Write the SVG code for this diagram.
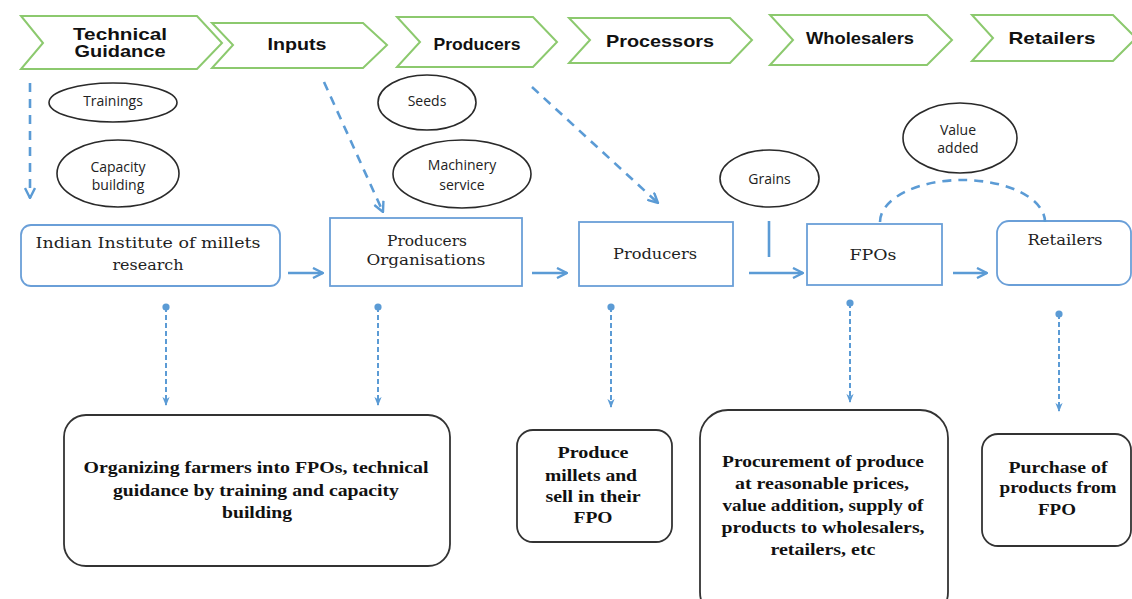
<svg xmlns="http://www.w3.org/2000/svg" width="1132" height="599" viewBox="0 0 1132 599">
<style>
.chev{fill:#fff;stroke:#8cc96e;stroke-width:2}
.ht{font-family:"Liberation Sans",Arial,sans-serif;font-weight:bold;font-size:17px;fill:#111;text-anchor:middle}
.ell{fill:#fff;stroke:#2a2a2a;stroke-width:1.6}
.et{font-family:"Open Sans","Noto Sans",sans-serif;font-size:14px;fill:#222;text-anchor:middle}
.bx{fill:#fff;stroke:#6a9fd8;stroke-width:1.8}
.bt{font-family:"DejaVu Serif","Liberation Serif",serif;font-size:14px;fill:#222;text-anchor:middle}
.ob{fill:#fff;stroke:#333;stroke-width:1.8}
.ot{font-family:"Liberation Serif","Times New Roman",serif;font-weight:bold;font-size:17px;fill:#111;text-anchor:middle}
.sol{fill:none;stroke:#5b9bd5;stroke-width:2.6}
.dl{fill:none;stroke:#5b9bd5;stroke-width:2.6;stroke-dasharray:9 7}
.ds{fill:none;stroke:#5b9bd5;stroke-width:2;stroke-dasharray:5 3}
</style>
<defs>
<marker id="arr" viewBox="0 0 12 12" refX="11" refY="6" markerWidth="12" markerHeight="12" markerUnits="userSpaceOnUse" orient="auto">
<path d="M1,1 L11,6 L1,11" fill="none" stroke="#5b9bd5" stroke-width="2.4"/>
</marker>
<marker id="arrS" viewBox="0 0 10 10" refX="9" refY="5" markerWidth="9" markerHeight="9" markerUnits="userSpaceOnUse" orient="auto">
<path d="M0,1 L10,5 L0,9 L3,5 z" fill="#5b9bd5"/>
</marker>
<marker id="dot" viewBox="0 0 8 8" refX="4" refY="4" markerWidth="8" markerHeight="8" markerUnits="userSpaceOnUse">
<circle cx="4" cy="4" r="3.6" fill="#5b9bd5"/>
</marker>
</defs>
<rect width="1132" height="599" fill="#fff"/>

<g id="header">
<g id="h-technical"><polygon class="chev" points="21,16 197,16 222,43 197,69 21,69 43,43"/>
<text class="ht" x="120" y="40" textLength="94" lengthAdjust="spacingAndGlyphs">Technical</text>
<text class="ht" x="120" y="57" textLength="91" lengthAdjust="spacingAndGlyphs">Guidance</text></g>
<g id="h-inputs"><polygon class="chev" points="212,23 363,23 387,45 363,68 212,68 233,45"/>
<text class="ht" x="297" y="50" textLength="59" lengthAdjust="spacingAndGlyphs">Inputs</text></g>
<g id="h-producers"><polygon class="chev" points="397,17 533,17 557,42 533,67 397,67 420,42"/>
<text class="ht" x="477" y="50" textLength="87" lengthAdjust="spacingAndGlyphs">Producers</text></g>
<g id="h-processors"><polygon class="chev" points="569,18 730,18 752,40 730,63 569,63 590,40"/>
<text class="ht" x="660" y="47" textLength="108" lengthAdjust="spacingAndGlyphs">Processors</text></g>
<g id="h-wholesalers"><polygon class="chev" points="770,15 927,15 952,40 927,65 770,65 793,40"/>
<text class="ht" x="860" y="44" textLength="108" lengthAdjust="spacingAndGlyphs">Wholesalers</text></g>
<g id="h-retailers"><polygon class="chev" points="972,15 1113,15 1136,38 1113,61 972,61 993,38"/>
<text class="ht" x="1052" y="44" textLength="87" lengthAdjust="spacingAndGlyphs">Retailers</text></g>
</g>

<g id="e-trainings"><ellipse class="ell" cx="113" cy="102.5" rx="64" ry="19.5"/><text class="et" x="113" y="106">Trainings</text></g>
<g id="e-capacity"><ellipse class="ell" cx="118" cy="173.5" rx="61" ry="33.5"/><text class="et" x="118" y="172">Capacity</text><text class="et" x="118" y="190">building</text></g>
<g id="e-seeds"><ellipse class="ell" cx="427" cy="102.5" rx="49" ry="27.5"/><text class="et" x="427" y="106">Seeds</text></g>
<g id="e-machinery"><ellipse class="ell" cx="462" cy="174" rx="69" ry="34"/><text class="et" x="462" y="170">Machinery</text><text class="et" x="462" y="190">service</text></g>
<g id="e-grains"><ellipse class="ell" cx="769.5" cy="178.5" rx="49.5" ry="28.5"/><text class="et" x="769.5" y="184">Grains</text></g>
<g id="e-value"><ellipse class="ell" cx="960" cy="138" rx="57" ry="35"/><text class="et" x="958" y="135">Value</text><text class="et" x="958" y="153">added</text></g>

<g id="n-iimr"><rect class="bx" x="21" y="225" width="259" height="61" rx="10"/>
<text class="bt" x="148" y="248" textLength="225" lengthAdjust="spacingAndGlyphs">Indian Institute of millets</text>
<text class="bt" x="148" y="270" textLength="71" lengthAdjust="spacingAndGlyphs">research</text></g>
<g id="n-po"><rect class="bx" x="330" y="218" width="192" height="68"/>
<text class="bt" x="427" y="246" textLength="80" lengthAdjust="spacingAndGlyphs">Producers</text>
<text class="bt" x="426" y="265" textLength="119" lengthAdjust="spacingAndGlyphs">Organisations</text></g>
<g id="n-producers"><rect class="bx" x="579" y="222" width="154" height="64"/>
<text class="bt" x="655" y="259" textLength="84" lengthAdjust="spacingAndGlyphs">Producers</text></g>
<g id="n-fpos"><rect class="bx" x="807" y="224" width="135" height="61"/>
<text class="bt" x="873" y="260" textLength="47" lengthAdjust="spacingAndGlyphs">FPOs</text></g>
<g id="n-retailers"><rect class="bx" x="997" y="221" width="134" height="64" rx="12"/>
<text class="bt" x="1065" y="245" textLength="75" lengthAdjust="spacingAndGlyphs">Retailers</text></g>

<g id="o-organizing"><rect class="ob" x="64" y="415" width="386" height="151" rx="22"/>
<text class="ot" x="256" y="473" textLength="345" lengthAdjust="spacingAndGlyphs">Organizing farmers into FPOs, technical</text>
<text class="ot" x="256" y="496" textLength="286" lengthAdjust="spacingAndGlyphs">guidance by training and capacity</text>
<text class="ot" x="257" y="518" textLength="70" lengthAdjust="spacingAndGlyphs">building</text></g>
<g id="o-produce"><rect class="ob" x="517" y="430" width="155" height="112" rx="16"/>
<text class="ot" x="593" y="458" textLength="71" lengthAdjust="spacingAndGlyphs">Produce</text>
<text class="ot" x="591" y="481" textLength="92" lengthAdjust="spacingAndGlyphs">millets and</text>
<text class="ot" x="593" y="502" textLength="95" lengthAdjust="spacingAndGlyphs">sell in their</text>
<text class="ot" x="593" y="523" textLength="39" lengthAdjust="spacingAndGlyphs">FPO</text></g>
<g id="o-procurement"><rect class="ob" x="700" y="410" width="248" height="210" rx="28"/>
<text class="ot" x="823" y="467" textLength="202" lengthAdjust="spacingAndGlyphs">Procurement of produce</text>
<text class="ot" x="822" y="489" textLength="174" lengthAdjust="spacingAndGlyphs">at reasonable prices,</text>
<text class="ot" x="823" y="511" textLength="201" lengthAdjust="spacingAndGlyphs">value addition, supply of</text>
<text class="ot" x="823" y="533" textLength="203" lengthAdjust="spacingAndGlyphs">products to wholesalers,</text>
<text class="ot" x="823" y="555" textLength="105" lengthAdjust="spacingAndGlyphs">retailers, etc</text></g>
<g id="o-purchase"><rect class="ob" x="982" y="434" width="149" height="112" rx="16"/>
<text class="ot" x="1058" y="473" textLength="99" lengthAdjust="spacingAndGlyphs">Purchase of</text>
<text class="ot" x="1058" y="493" textLength="117" lengthAdjust="spacingAndGlyphs">products from</text>
<text class="ot" x="1057" y="515" textLength="38" lengthAdjust="spacingAndGlyphs">FPO</text></g>

<g id="connectors">
<line class="sol" x1="288" y1="273" x2="323" y2="273" marker-end="url(#arr)"/>
<line class="sol" x1="532" y1="273" x2="567" y2="273" marker-end="url(#arr)"/>
<line class="sol" x1="749" y1="273" x2="803" y2="273" marker-end="url(#arr)"/>
<line class="sol" x1="953" y1="273" x2="987" y2="273" marker-end="url(#arr)"/>
<line class="sol" x1="769" y1="221" x2="769" y2="257"/>
<line class="dl" x1="30" y1="83" x2="30" y2="198" marker-end="url(#arr)"/>
<line class="dl" x1="324" y1="82" x2="383" y2="212" marker-end="url(#arr)"/>
<line class="dl" x1="532" y1="87" x2="658" y2="203" marker-end="url(#arr)"/>
<path class="dl" d="M880,222 A82.5,42 0 0 1 1045,222"/>
<line class="ds" x1="166" y1="307" x2="166" y2="405" marker-start="url(#dot)" marker-end="url(#arrS)"/>
<line class="ds" x1="378" y1="307" x2="378" y2="405" marker-start="url(#dot)" marker-end="url(#arrS)"/>
<line class="ds" x1="611" y1="307" x2="611" y2="407" marker-start="url(#dot)" marker-end="url(#arrS)"/>
<line class="ds" x1="850" y1="303" x2="850" y2="402" marker-start="url(#dot)" marker-end="url(#arrS)"/>
<line class="ds" x1="1059" y1="314" x2="1059" y2="411" marker-start="url(#dot)" marker-end="url(#arrS)"/>
</g>
</svg>
